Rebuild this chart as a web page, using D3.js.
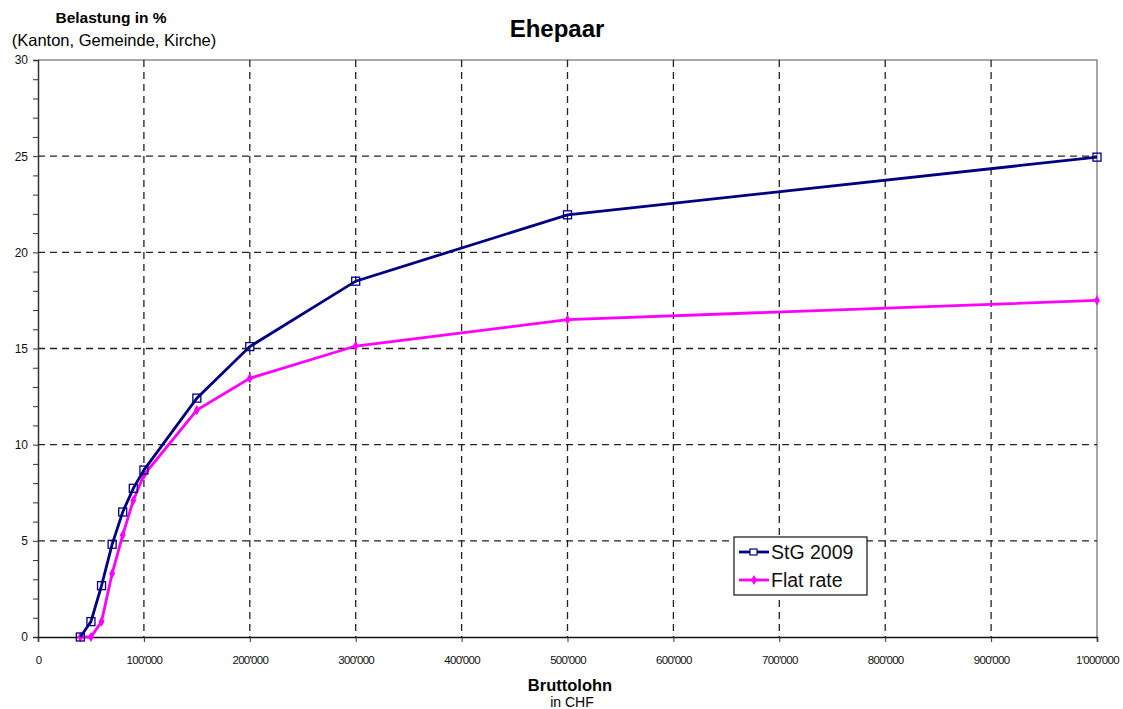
<!DOCTYPE html>
<html>
<head>
<meta charset="utf-8">
<script src="https://cdn.jsdelivr.net/npm/d3@7"></script>
<style>
  body { margin: 0; background: #fff; }
  svg { font-family: "Liberation Sans", Arial, sans-serif; }
</style>
</head>
<body>
<div class="chart"></div>
<script>
// income steps (CHF)
const lohn = [40000, 50000, 60000, 70000, 80000, 90000, 100000, 150000, 200000, 300000, 500000, 1000000];
// tax burden in %
const stg2009 = [0, 0.8, 2.67, 4.82, 6.5, 7.73, 8.68, 12.42, 15.1, 18.5, 21.95, 24.95];
const flatRate = [0, 0, 0.8, 3.3, 5.3, 7.1, 8.42, 11.8, 13.45, 15.13, 16.5, 17.5];

const xTicks = d3.range(0, 1000001, 100000);
const yTicks = [0, 5, 10, 15, 20, 25, 30];
const seriesNames = ["StG 2009", "Flat rate"];

const W = 1123, H = 709;
const m = {left: 38, right: 26, top: 60, bottom: 72};

const svg = d3.select(".chart")
    .append("svg")
    .attr("width", W)
    .attr("height", H);

const x = d3.scaleLinear().domain([0, 1000000]).range([m.left, W - m.right]);
const y = d3.scaleLinear().domain([0, 30]).range([H - m.bottom, m.top]);

const fmt = d => d3.format(",")(d).replace(/,/g, "'");

// plot frame (top + right are grey)
svg.append("path")
    .attr("d", `M${x(0)},${y(30)}H${x(1000000)}V${y(0)}`)
    .attr("fill", "none")
    .attr("stroke", "#8c8c8c")
    .attr("stroke-width", 1.5);

// grid
svg.append("g")
    .selectAll("line")
    .data(xTicks.filter(d => d > 0 && d < 1000000))
    .join("line")
    .attr("x1", d => x(d)).attr("x2", d => x(d))
    .attr("y1", y(30)).attr("y2", y(0))
    .attr("stroke", "#222")
    .attr("stroke-width", 1.3)
    .attr("stroke-dasharray", "7,5");

svg.append("g")
    .selectAll("line")
    .data(yTicks.filter(d => d > 0 && d < 30))
    .join("line")
    .attr("x1", x(0)).attr("x2", x(1000000))
    .attr("y1", d => y(d)).attr("y2", d => y(d))
    .attr("stroke", "#222")
    .attr("stroke-width", 1.3)
    .attr("stroke-dasharray", "7,5");

// y axis with minor ticks
const yAxis = svg.append("g")
    .attr("transform", `translate(${x(0)},0)`)
    .call(d3.axisLeft(y).tickValues(d3.range(0, 31, 1)).tickSize(5).tickFormat(d => d % 5 === 0 ? d : ""));
yAxis.select(".domain").attr("stroke", "#333").attr("stroke-width", 1.5);
yAxis.selectAll(".tick line").attr("stroke", "#333");
yAxis.selectAll("text")
    .attr("x", -10)
    .attr("font-size", "12px")
    .attr("font-family", "Liberation Sans, Arial, sans-serif")
    .attr("fill", "#111");

// x axis
const xAxis = svg.append("g")
    .attr("transform", `translate(0,${y(0)})`)
    .call(d3.axisBottom(x).tickValues(xTicks).tickSize(5).tickFormat(fmt));
xAxis.select(".domain").attr("stroke", "#111").attr("stroke-width", 1.5);
xAxis.selectAll(".tick line").attr("stroke", "#333");
xAxis.selectAll("text")
    .attr("y", 19)
    .attr("font-size", "11.5px")
    .attr("letter-spacing", "-0.7px")
    .attr("font-family", "Liberation Sans, Arial, sans-serif")
    .attr("fill", "#111");

// lines
const line = d3.line().x((d, i) => x(lohn[i])).y(d => y(d));

svg.append("path")
    .datum(flatRate)
    .attr("d", line)
    .attr("fill", "none")
    .attr("stroke", "#ff00ff")
    .attr("stroke-width", 2.8);

svg.append("g")
    .selectAll("path")
    .data(flatRate)
    .join("path")
    .attr("transform", (d, i) => `translate(${x(lohn[i])},${y(d)})`)
    .attr("d", d3.symbol(d3.symbolDiamond, 30))
    .attr("fill", "#ff00ff");

svg.append("path")
    .datum(stg2009)
    .attr("d", line)
    .attr("fill", "none")
    .attr("stroke", "#000080")
    .attr("stroke-width", 2.8);

svg.append("g")
    .selectAll("rect")
    .data(stg2009)
    .join("rect")
    .attr("x", (d, i) => x(lohn[i]) - 4)
    .attr("y", d => y(d) - 4)
    .attr("width", 8)
    .attr("height", 8)
    .attr("fill", "none")
    .attr("stroke", "#000080")
    .attr("stroke-width", 1.3);

// legend
const lg = svg.append("g").attr("transform", "translate(734,537)");
lg.append("rect")
    .attr("width", 133).attr("height", 58)
    .attr("fill", "#fff").attr("stroke", "#111").attr("stroke-width", 1.2);

const lgItems = lg.selectAll("g.item")
    .data(seriesNames)
    .join("g")
    .attr("class", "item")
    .attr("transform", (d, i) => `translate(0,${15 + i * 28})`);

lgItems.append("line")
    .attr("x1", 5).attr("x2", 35)
    .attr("stroke", (d, i) => i === 0 ? "#000080" : "#ff00ff")
    .attr("stroke-width", 2.8);
lgItems.filter((d, i) => i === 0).append("rect")
    .attr("x", 16).attr("y", -3).attr("width", 7).attr("height", 6)
    .attr("fill", "#fff").attr("stroke", "#000080").attr("stroke-width", 1.2);
lgItems.filter((d, i) => i === 1).append("path")
    .attr("transform", "translate(20,0)")
    .attr("d", d3.symbol(d3.symbolDiamond, 30))
    .attr("fill", "#ff00ff");
lgItems.append("text")
    .attr("x", 37).attr("y", 7)
    .attr("font-size", "19.5px")
    .attr("fill", "#111")
    .text(d => d);

// titles
svg.append("text")
    .attr("x", 557).attr("y", 37)
    .attr("text-anchor", "middle")
    .attr("font-size", "24px").attr("font-weight", "bold")
    .text("Ehepaar");

svg.append("text")
    .attr("x", 111).attr("y", 23)
    .attr("text-anchor", "middle")
    .attr("font-size", "15.5px").attr("font-weight", "bold")
    .text("Belastung in %");
svg.append("text")
    .attr("x", 114).attr("y", 46)
    .attr("text-anchor", "middle")
    .attr("font-size", "16.5px")
    .text("(Kanton, Gemeinde, Kirche)");

svg.append("text")
    .attr("x", 570).attr("y", 691)
    .attr("text-anchor", "middle")
    .attr("font-size", "16.5px").attr("font-weight", "bold")
    .text("Bruttolohn");
svg.append("text")
    .attr("x", 572).attr("y", 707)
    .attr("text-anchor", "middle")
    .attr("font-size", "14px")
    .text("in CHF");
</script>
</body>
</html>
